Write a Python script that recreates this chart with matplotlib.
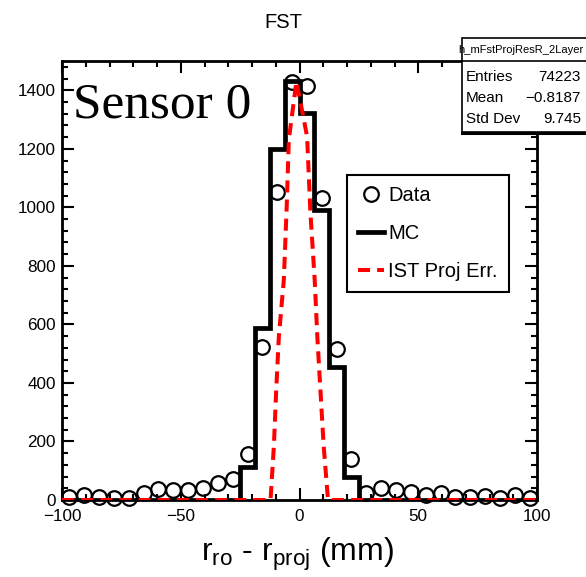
import numpy as np
import matplotlib
matplotlib.use("Agg")
import matplotlib.pyplot as plt
from matplotlib.lines import Line2D
from matplotlib.patches import Rectangle
from matplotlib.ticker import MultipleLocator

plt.rcParams["font.family"] = ["Liberation Sans", "DejaVu Sans"]
plt.rcParams["mathtext.fontset"] = "custom"
plt.rcParams["mathtext.rm"] = "Liberation Sans"
plt.rcParams["mathtext.it"] = "Liberation Sans"

# 32 bins of 6.25 mm between -100 and 100
bin_edges = np.linspace(-100, 100, 33)
bin_centers = 0.5 * (bin_edges[:-1] + bin_edges[1:])

data_counts = [11, 17, 11, 6, 6, 25, 37, 34, 34, 42, 59, 72,
               156, 524, 1052, 1428, 1414, 1031, 516, 139,
               23, 40, 34, 28, 17, 23, 11, 9, 14, 6, 17, 8]
mc_counts = [0, 0, 0, 0, 0, 0, 0, 0, 0, 0, 0, 0,
             114, 587, 1200, 1430, 1324, 991, 454, 78,
             0, 0, 0, 0, 0, 0, 0, 0, 0, 0, 0, 0]

# projection-error curve (mm, counts)
ist_x = [-100, -12.2, -10.8, -9.8, -8.7, -6.6, -5.4, -4.5, -1.3,
         3.2, 4.6, 6.4, 7.5, 8.8, 10.2, 12.0, 100]
ist_y = [0, 0, 182, 376, 558, 752, 1000, 1231, 1430,
         1242, 981, 752, 558, 376, 182, 0, 0]

stats_name = "h_mFstProjResR_2Layer"
stats_labels = ["Entries", "Mean", "Std Dev"]
stats_values = ["74223", "\u22120.8187", "9.745"]

W, H = 586, 577
fig = plt.figure(figsize=(W / 100, H / 100), dpi=100)
ax = fig.add_axes([62 / W, 1 - 500 / H, (537 - 62) / W, (500 - 61) / H])

ax.plot(bin_centers, data_counts, linestyle="none", marker="o", markersize=10.5,
        markerfacecolor="none", markeredgecolor="black", markeredgewidth=1.6,
        zorder=2, clip_on=False)
ax.stairs(mc_counts, bin_edges, color="black", linewidth=3.4, zorder=3)
ax.plot(ist_x, ist_y, color="red", linewidth=2.9, linestyle=(0, (3, 1.75)),
        zorder=4)

ax.set_xlim(-100, 100)
ax.set_ylim(0, 1500)
ax.xaxis.set_major_locator(MultipleLocator(50))
ax.xaxis.set_minor_locator(MultipleLocator(10))
ax.yaxis.set_major_locator(MultipleLocator(200))
ax.yaxis.set_minor_locator(MultipleLocator(40))
ax.tick_params(which="both", direction="in", top=True, right=True,
               width=1.5, labelsize=12.3)
ax.tick_params(which="major", length=8.5)
ax.tick_params(axis="x", which="major", pad=6.5)
ax.tick_params(axis="y", which="major", pad=4.5)
ax.tick_params(which="minor", length=4.5)
for sp in ax.spines.values():
    sp.set_linewidth(2.0)

# legend
handles = [
    Line2D([], [], linestyle="none", marker="o", markersize=10.5,
           markerfacecolor="none", markeredgecolor="black", markeredgewidth=1.6),
    Line2D([], [], color="black", linewidth=3.4),
    Line2D([], [], color="red", linewidth=2.9, linestyle=(0, (3, 1.75))),
]
leg = ax.legend(handles, ["Data", "MC", "IST Proj Err."], loc="upper left",
                bbox_to_anchor=(347 / W, 1 - 175 / H), bbox_transform=fig.transFigure,
                borderaxespad=0, fontsize=14.5, frameon=True, fancybox=False,
                edgecolor="black", framealpha=1, borderpad=0.55, labelspacing=0.95,
                handlelength=1.3, handletextpad=0.2, numpoints=1)
leg.get_frame().set_linewidth(1.5)

fig.text(283 / W, 1 - 22 / H, "FST", ha="center", va="center", fontsize=14.5)
fig.text(73 / W, 1 - 117 / H, "Sensor 0", ha="left", va="baseline",
         fontsize=37, family="Liberation Serif")
fig.text(297 / W, 1 - 561 / H, r"r$_{\mathrm{ro}}$ - r$_{\mathrm{proj}}$ (mm)",
         ha="center", va="baseline", fontsize=23)

# stats box
box_l, box_t, box_div, box_b = 462, 38, 61, 132
fig.patches.append(Rectangle((box_l / W, 1 - box_b / H), (W + 10 - box_l) / W,
                             (box_b - box_t) / H, transform=fig.transFigure,
                             facecolor="white", edgecolor="black", linewidth=1.2,
                             zorder=5))
fig.add_artist(Line2D([box_l / W, 1], [1 - box_div / H] * 2,
                      transform=fig.transFigure, color="black", linewidth=1.2, zorder=6))
fig.add_artist(Line2D([box_l / W, 1], [1 - (box_b + 1) / H] * 2,
                      transform=fig.transFigure, color="black", linewidth=2.2, zorder=6))
fig.text(521 / W, 1 - 50 / H, stats_name, ha="center", va="center",
         fontsize=8, zorder=7)
for i, (lab, val) in enumerate(zip(stats_labels, stats_values)):
    y = 1 - (77 + 21 * i) / H
    fig.text(466 / W, y, lab, ha="left", va="center", fontsize=11, zorder=7)
    fig.text(581 / W, y, val, ha="right", va="center", fontsize=11, zorder=7)

fig.savefig("out.png", dpi=100)
